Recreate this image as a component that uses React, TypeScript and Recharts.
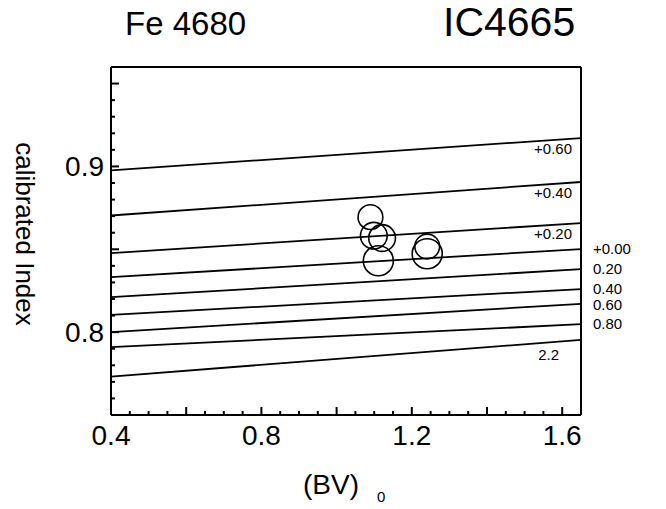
import { ComposedChart, Line, Scatter, XAxis, YAxis, ZAxis } from 'recharts';

// metallicity grid lines, index value at the blue and red ends of the colour range
const colorRange = [0.4, 1.65];
const indexRange = [0.75, 0.96];
const gridLabels = ['+0.60', '+0.40', '+0.20', '+0.00', '0.20', '0.40', '0.60', '0.80', '2.2'];
const gridBlue = [0.8976, 0.8704, 0.8477, 0.8332, 0.8211, 0.8104, 0.8, 0.7909, 0.7732];
const gridRed = [0.9171, 0.8906, 0.8658, 0.8501, 0.838, 0.826, 0.8171, 0.8048, 0.7953];

// cluster members
const starBV = [1.09, 1.099, 1.121, 1.111, 1.241, 1.241];
const starIndex = [0.8694, 0.8582, 0.8568, 0.8431, 0.8517, 0.8473];
const starWeight = [4.8, 5.6, 5.6, 7.1, 4.8, 7.1];

const xTicks = [
  0.4, 0.45, 0.5, 0.55, 0.6, 0.65, 0.7, 0.75, 0.8, 0.85, 0.9, 0.95, 1.0,
  1.05, 1.1, 1.15, 1.2, 1.25, 1.3, 1.35, 1.4, 1.45, 1.5, 1.55, 1.6, 1.65,
];
const yTicks = [
  0.75, 0.76, 0.77, 0.78, 0.79, 0.8, 0.81, 0.82, 0.83, 0.84, 0.85,
  0.86, 0.87, 0.88, 0.89, 0.9, 0.91, 0.92, 0.93, 0.94, 0.95, 0.96,
];
const xLabels = [0.4, 0.8, 1.2, 1.6];
const yLabels = [0.8, 0.9];

const FONT = '"Liberation Sans", Arial, Helvetica, sans-serif';
const insideLabels = ['+0.60', '+0.40', '+0.20'];

const W = 666;
const H = 509;
const margin = { top: 37, right: 55, bottom: 64, left: 81 };
const AXIS = 30;
const plotTop = margin.top + AXIS;
const plotH = H - margin.top - margin.bottom - 2 * AXIS;

const gridLines = gridLabels.map((label, i) => [
  { x: colorRange[0], y: gridBlue[i], label },
  { x: colorRange[1], y: gridRed[i], label },
]);

const stars = starBV.map((x, i) => ({ x, y: starIndex[i], z: starWeight[i] }));

// labels outside the frame are stacked so they keep a line's height apart
const outsideY: Record<string, number> = {};
{
  let prev = -Infinity;
  gridLabels.forEach((label, i) => {
    if (insideLabels.includes(label) || label === '2.2') return;
    const py = plotTop + ((indexRange[1] - gridRed[i]) / (indexRange[1] - indexRange[0])) * plotH;
    const y = Math.max(py, prev + 16);
    outsideY[label] = y;
    prev = y;
  });
}

const near = (a: number, b: number) => Math.abs(a - b) < 1e-6;
const isMajorX = (v: number) => Math.round(v * 100) % 20 === 0;
const isMajorY = (v: number) => Math.round(v * 100) % 5 === 0;

const xTick = (side: 'bottom' | 'top') => (p: any) => {
  const v = p.payload.value;
  const len = isMajorX(v) ? 8 : 4;
  const dir = side === 'bottom' ? -1 : 1;
  const showLabel = side === 'bottom' && xLabels.some((l) => near(l, v));
  return (
    <g>
      <line x1={p.x} x2={p.x} y1={p.y} y2={p.y + dir * len} stroke="#000" strokeWidth={2} />
      {showLabel && (
        <text x={p.x} y={p.y + 30} textAnchor="middle" fontSize={28} fontFamily={FONT} fill="#000">
          {v.toFixed(1)}
        </text>
      )}
    </g>
  );
};

const yTick = (side: 'left' | 'right') => (p: any) => {
  const v = p.payload.value;
  const len = isMajorY(v) ? 8 : 4;
  const dir = side === 'left' ? 1 : -1;
  const showLabel = side === 'left' && yLabels.some((l) => near(l, v));
  return (
    <g>
      <line x1={p.x} x2={p.x + dir * len} y1={p.y} y2={p.y} stroke="#000" strokeWidth={2} />
      {showLabel && (
        <text x={p.x - 7} y={p.y + 10} textAnchor="end" fontSize={28} fontFamily={FONT} fill="#000">
          {v.toFixed(1)}
        </text>
      )}
    </g>
  );
};

// the label of each grid line is drawn at its red end
const endLabel = (p: any) => {
  const { cx, cy, index, payload } = p;
  if (index !== 1) return <g key={`e${index}`} />;
  const label: string = payload.label;
  let props: any = { x: cx + 12, y: (outsideY[label] ?? cy) + 5, textAnchor: 'start' };
  if (insideLabels.includes(label)) props = { x: cx - 9, y: cy + 16, textAnchor: 'end' };
  if (label === '2.2') props = { x: cx - 22, y: cy + 20, textAnchor: 'end' };
  return (
    <text key={`e${index}`} {...props} fontSize={15} fontFamily={FONT} fill="#000">
      {label}
    </text>
  );
};

const frame = { stroke: '#000', strokeWidth: 2 };

export default function App() {
  return (
    <div style={{ position: 'absolute', left: 0, top: 0, width: W, height: H, background: '#fff' }}>
      <ComposedChart width={W} height={H} margin={margin}>
        <XAxis
          xAxisId="b"
          type="number"
          dataKey="x"
          domain={colorRange}
          ticks={xTicks}
          interval={0}
          height={AXIS}
          tickSize={0}
          tickMargin={0}
          tickLine={false}
          tick={xTick('bottom')}
          axisLine={frame}
        />
        <XAxis
          xAxisId="t"
          orientation="top"
          type="number"
          dataKey="x"
          domain={colorRange}
          ticks={xTicks}
          interval={0}
          height={AXIS}
          tickSize={0}
          tickMargin={0}
          tickLine={false}
          tick={xTick('top')}
          axisLine={frame}
        />
        <YAxis
          yAxisId="l"
          type="number"
          dataKey="y"
          domain={indexRange}
          ticks={yTicks}
          interval={0}
          width={AXIS}
          tickSize={0}
          tickMargin={0}
          tickLine={false}
          tick={yTick('left')}
          axisLine={frame}
        />
        <YAxis
          yAxisId="r"
          orientation="right"
          type="number"
          dataKey="y"
          domain={indexRange}
          ticks={yTicks}
          interval={0}
          width={AXIS}
          tickSize={0}
          tickMargin={0}
          tickLine={false}
          tick={yTick('right')}
          axisLine={frame}
        />
        <ZAxis type="number" dataKey="z" domain={[0, 10]} range={[0, 1000]} />
        {gridLines.map((pts, i) => (
          <Line
            key={gridLabels[i]}
            xAxisId="b"
            yAxisId="l"
            data={pts}
            dataKey="y"
            type="linear"
            stroke="#000"
            strokeWidth={1.8}
            dot={endLabel}
            activeDot={false}
            isAnimationActive={false}
          />
        ))}
        <Scatter
          xAxisId="b"
          yAxisId="l"
          data={stars}
          shape="circle"
          fill="none"
          stroke="#000"
          strokeWidth={1.6}
          isAnimationActive={false}
        />
      </ComposedChart>
      <svg width={W} height={H} style={{ position: 'absolute', left: 0, top: 0, pointerEvents: 'none' }}>
        <text x={125} y={35} fontSize={33} fontFamily={FONT} fill="#000">Fe 4680</text>
        <text x={443} y={36} fontSize={41} fontFamily={FONT} fill="#000">IC4665</text>
        <text
          transform="translate(25,234) rotate(90)"
          textAnchor="middle"
          dy="0.35em"
          fontSize={26}
          fontFamily={FONT}
          fill="#000"
        >
          calibrated Index
        </text>
        <text x={303} y={494} fontSize={28} fontFamily={FONT} fill="#000">(BV)</text>
        <text x={377} y={502} fontSize={15} fontFamily={FONT} fill="#000">0</text>
      </svg>
    </div>
  );
}
